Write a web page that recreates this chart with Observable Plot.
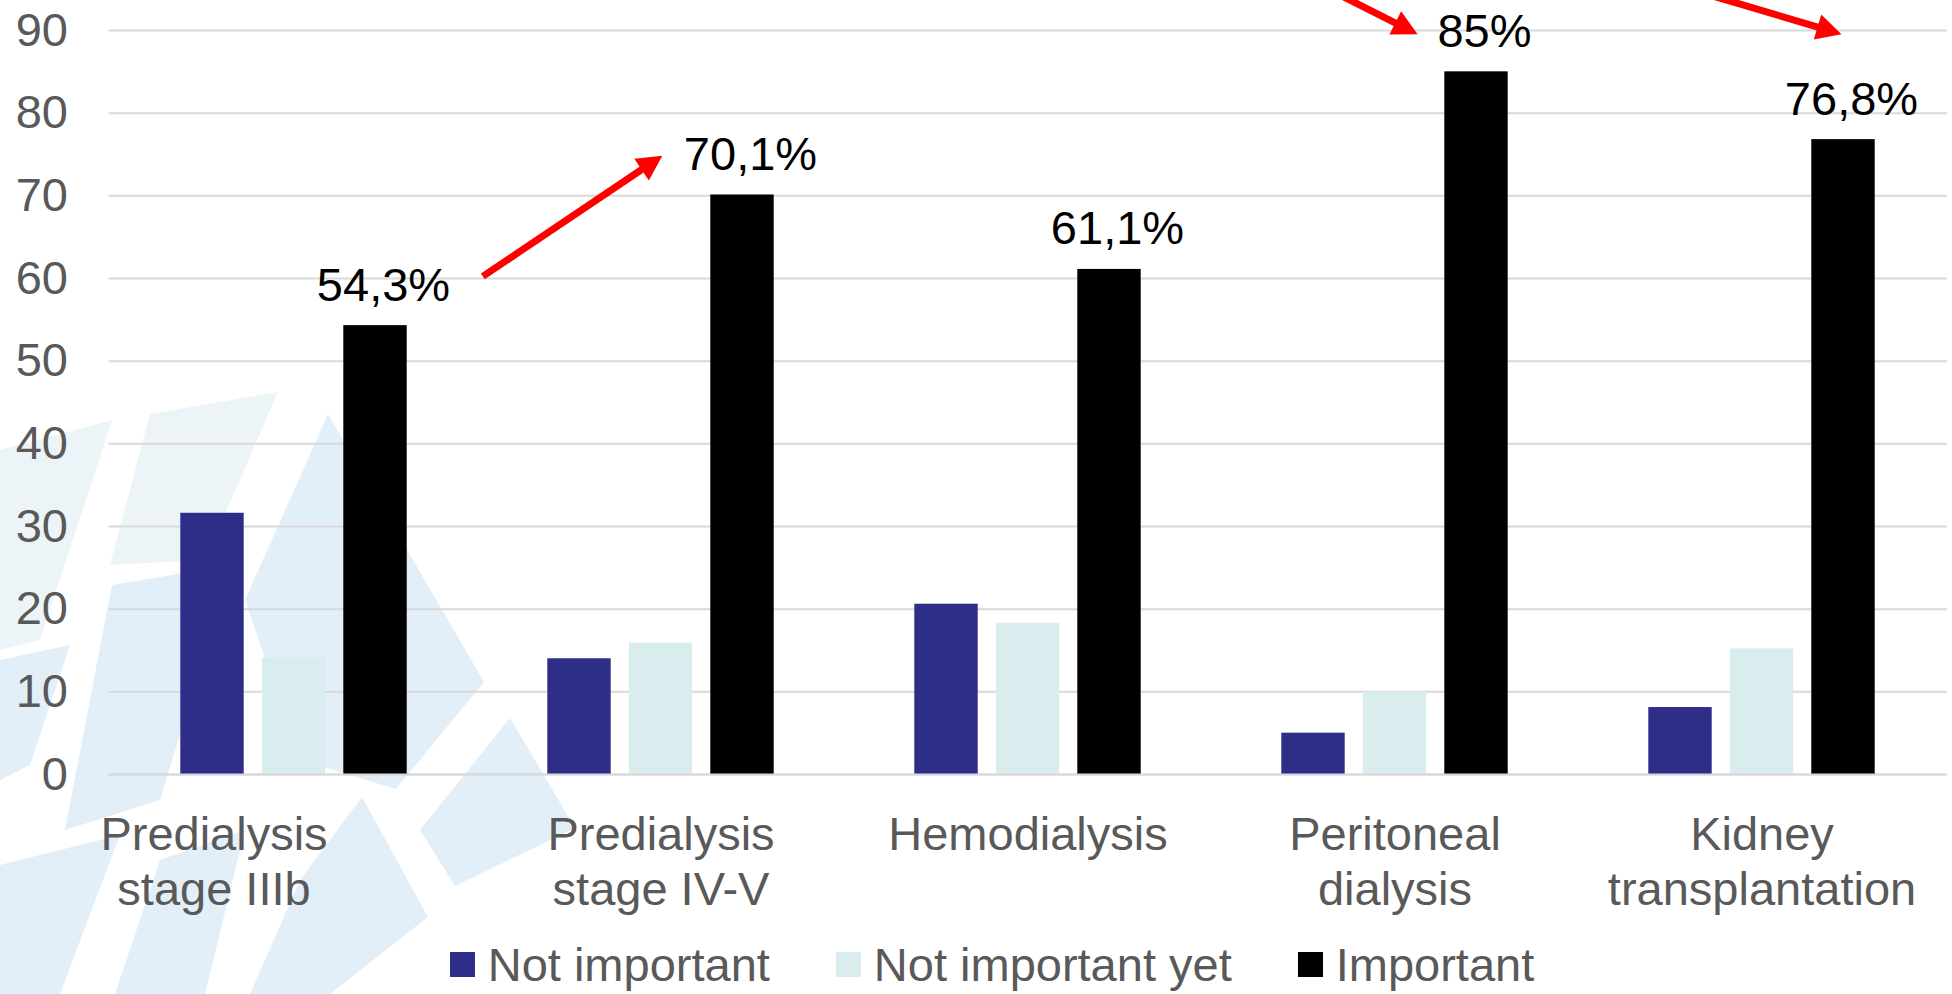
<!DOCTYPE html>
<html>
<head>
<meta charset="utf-8">
<script src="https://cdn.jsdelivr.net/npm/d3@7"></script>
<script src="https://cdn.jsdelivr.net/npm/@observablehq/plot@0.6"></script>
<style>
  html, body { margin: 0; padding: 0; background: #fff; overflow: hidden; }
  body { font-family: "Liberation Sans", Arial, sans-serif; width: 1952px; height: 994px; position: relative; }
  #bg { position: absolute; left: 0; top: 0; width: 1952px; height: 994px; z-index: 0; }
  #chart { height: 935px; position: relative; z-index: 1; }
  #legend { height: 59px; display: flex; align-items: center; justify-content: center; padding-left: 32px; box-sizing: border-box;
            font-size: 47px; line-height: 1; color: #595959; position: relative; z-index: 1; }
  .item { display: flex; align-items: center; }
  .item + .item { margin-left: 66px; }
  .swatch { width: 25px; height: 25px; margin-right: 13px; }
</style>
</head>
<body>
<svg id="bg" width="1952" height="994" xmlns="http://www.w3.org/2000/svg">
  <g fill="#EDF4F8">
    <polygon points="0,450 112,420 40,640 0,650"/>
    <polygon points="150,414 278,392 205,560 110,565"/>
  </g>
  <g fill="#E2EFF8">
    <polygon points="328,414 484,682 396,789 300,760 245,600"/>
    <polygon points="0,660 70,645 30,765 0,780"/>
    <polygon points="112,585 232,565 160,800 65,830"/>
    <polygon points="510,718 575,828 455,886 420,830"/>
    <polygon points="362,797 428,917 330,994 250,994 300,880"/>
    <polygon points="0,865 120,835 60,994 0,994"/>
    <polygon points="160,860 245,830 205,994 115,994"/>
  </g>
</svg>
<div id="chart"></div>
<div id="legend"></div>
<script>
// ---- data ----
const categories = ["Predialysis\nstage IIIb", "Predialysis\nstage IV-V", "Hemodialysis", "Peritoneal\ndialysis", "Kidney\ntransplantation"];
const series = ["Not important", "Not important yet", "Important"];
const notImportant = [31.6, 14.0, 20.6, 5.0, 8.1];
const notImportantYet = [14.1, 15.9, 18.3, 10.0, 15.2];
const important = [54.3, 70.1, 61.1, 85, 76.8];
const importantLabels = ["54,3%", "70,1%", "61,1%", "85%", "76,8%"];
const yTicks = [0, 10, 20, 30, 40, 50, 60, 70, 80, 90];
const seriesColors = ["#2E2D87", "#DAEDEE", "#000000"];

// red annotation arrows: [category index, offset as fraction of band step, value]
const arrowNotes = [
  {from: [0, 0.516, 60.2], to: [1, 0.005, 74.8]},
  {from: [3, -0.286, 97.3], to: [3, 0.063, 89.5]},
  {from: [4, -0.375, 97.3], to: [4, 0.218, 89.5]}
];

const seriesValues = [notImportant, notImportantYet, important];
const rows = categories.flatMap((c, i) => series.map((s, j) => ({category: c, series: s, value: seriesValues[j][i], label: j === 2 ? importantLabels[i] : ""})));

const FS = 47;
const barInset = 151.8;
const barStep = 81.5;
const gray = "#595959";

function arrowsMark(index, scales, values, dims) {
  const xs = scales.x;
  const step = xs(categories[1]) - xs(categories[0]);
  const px = (p) => xs(categories[p[0]]) + step / 2 + p[1] * step;
  const g = d3.create("svg:g");
  for (const a of arrowNotes) {
    const x1 = px(a.from), y1 = scales.y(a.from[2]);
    const x2 = px(a.to), y2 = scales.y(a.to[2]);
    const dx = x2 - x1, dy = y2 - y1, len = Math.hypot(dx, dy);
    const ux = dx / len, uy = dy / len;
    const head = 25, half = 13;
    const bx = x2 - ux * head, by = y2 - uy * head;
    g.append("line").attr("x1", x1).attr("y1", y1).attr("x2", bx + ux * 2).attr("y2", by + uy * 2)
      .attr("stroke", "#FF0000").attr("stroke-width", 7);
    g.append("polygon")
      .attr("points", [[x2, y2], [bx - uy * half, by + ux * half], [bx + uy * half, by - ux * half]].map(p => p.join(",")).join(" "))
      .attr("fill", "#FF0000");
  }
  return g.node();
}

const plot = Plot.plot({
  width: 1952,
  height: 935,
  marginLeft: 108.5,
  marginRight: 5,
  marginTop: 30,
  marginBottom: 161,
  style: {fontFamily: "'Liberation Sans', Arial, sans-serif", color: gray, background: "transparent"},
  x: {type: "band", domain: categories, padding: 0, axis: null},
  y: {domain: [0, 90], axis: null},
  color: {domain: series, range: seriesColors},
  marks: [
    Plot.gridY(yTicks, {stroke: "#D9D9D9", strokeOpacity: 1, strokeWidth: 2}),
    ...series.map((s, j) => Plot.barY(rows.filter(d => d.series === s), {
      x: "category", y: "value", fill: "series",
      insetLeft: barInset, insetRight: barInset, dx: (j - 1) * barStep
    })),
    Plot.ruleY([0], {stroke: "#D9D9D9", strokeWidth: 2}),
    Plot.axisY(yTicks, {tickSize: 0, tickPadding: 41, fontSize: FS, fill: gray, label: null}),
    Plot.text(rows.filter(d => d.series === "Important"), {
      x: "category", y: "value", text: "label", dx: barStep + 8, dy: -40,
      fontSize: FS, fill: "#000", lineAnchor: "middle"
    }),
    Plot.text([categories[0]], {x: d => d, text: d => d, frameAnchor: "bottom", lineAnchor: "top", dy: 36, dx: -80, fontSize: FS, lineHeight: 1.18, fill: gray}),
    Plot.text(categories.slice(1), {x: d => d, text: d => d, frameAnchor: "bottom", lineAnchor: "top", dy: 36, fontSize: FS, lineHeight: 1.18, fill: gray}),
    arrowsMark
  ]
});
document.getElementById("chart").append(plot);

// legend (HTML, below the SVG)
const legend = d3.select("#legend");
series.forEach((s, j) => {
  const item = legend.append("div").attr("class", "item");
  item.append("div").attr("class", "swatch").style("background", seriesColors[j]);
  item.append("span").text(s);
});
</script>
</body>
</html>
